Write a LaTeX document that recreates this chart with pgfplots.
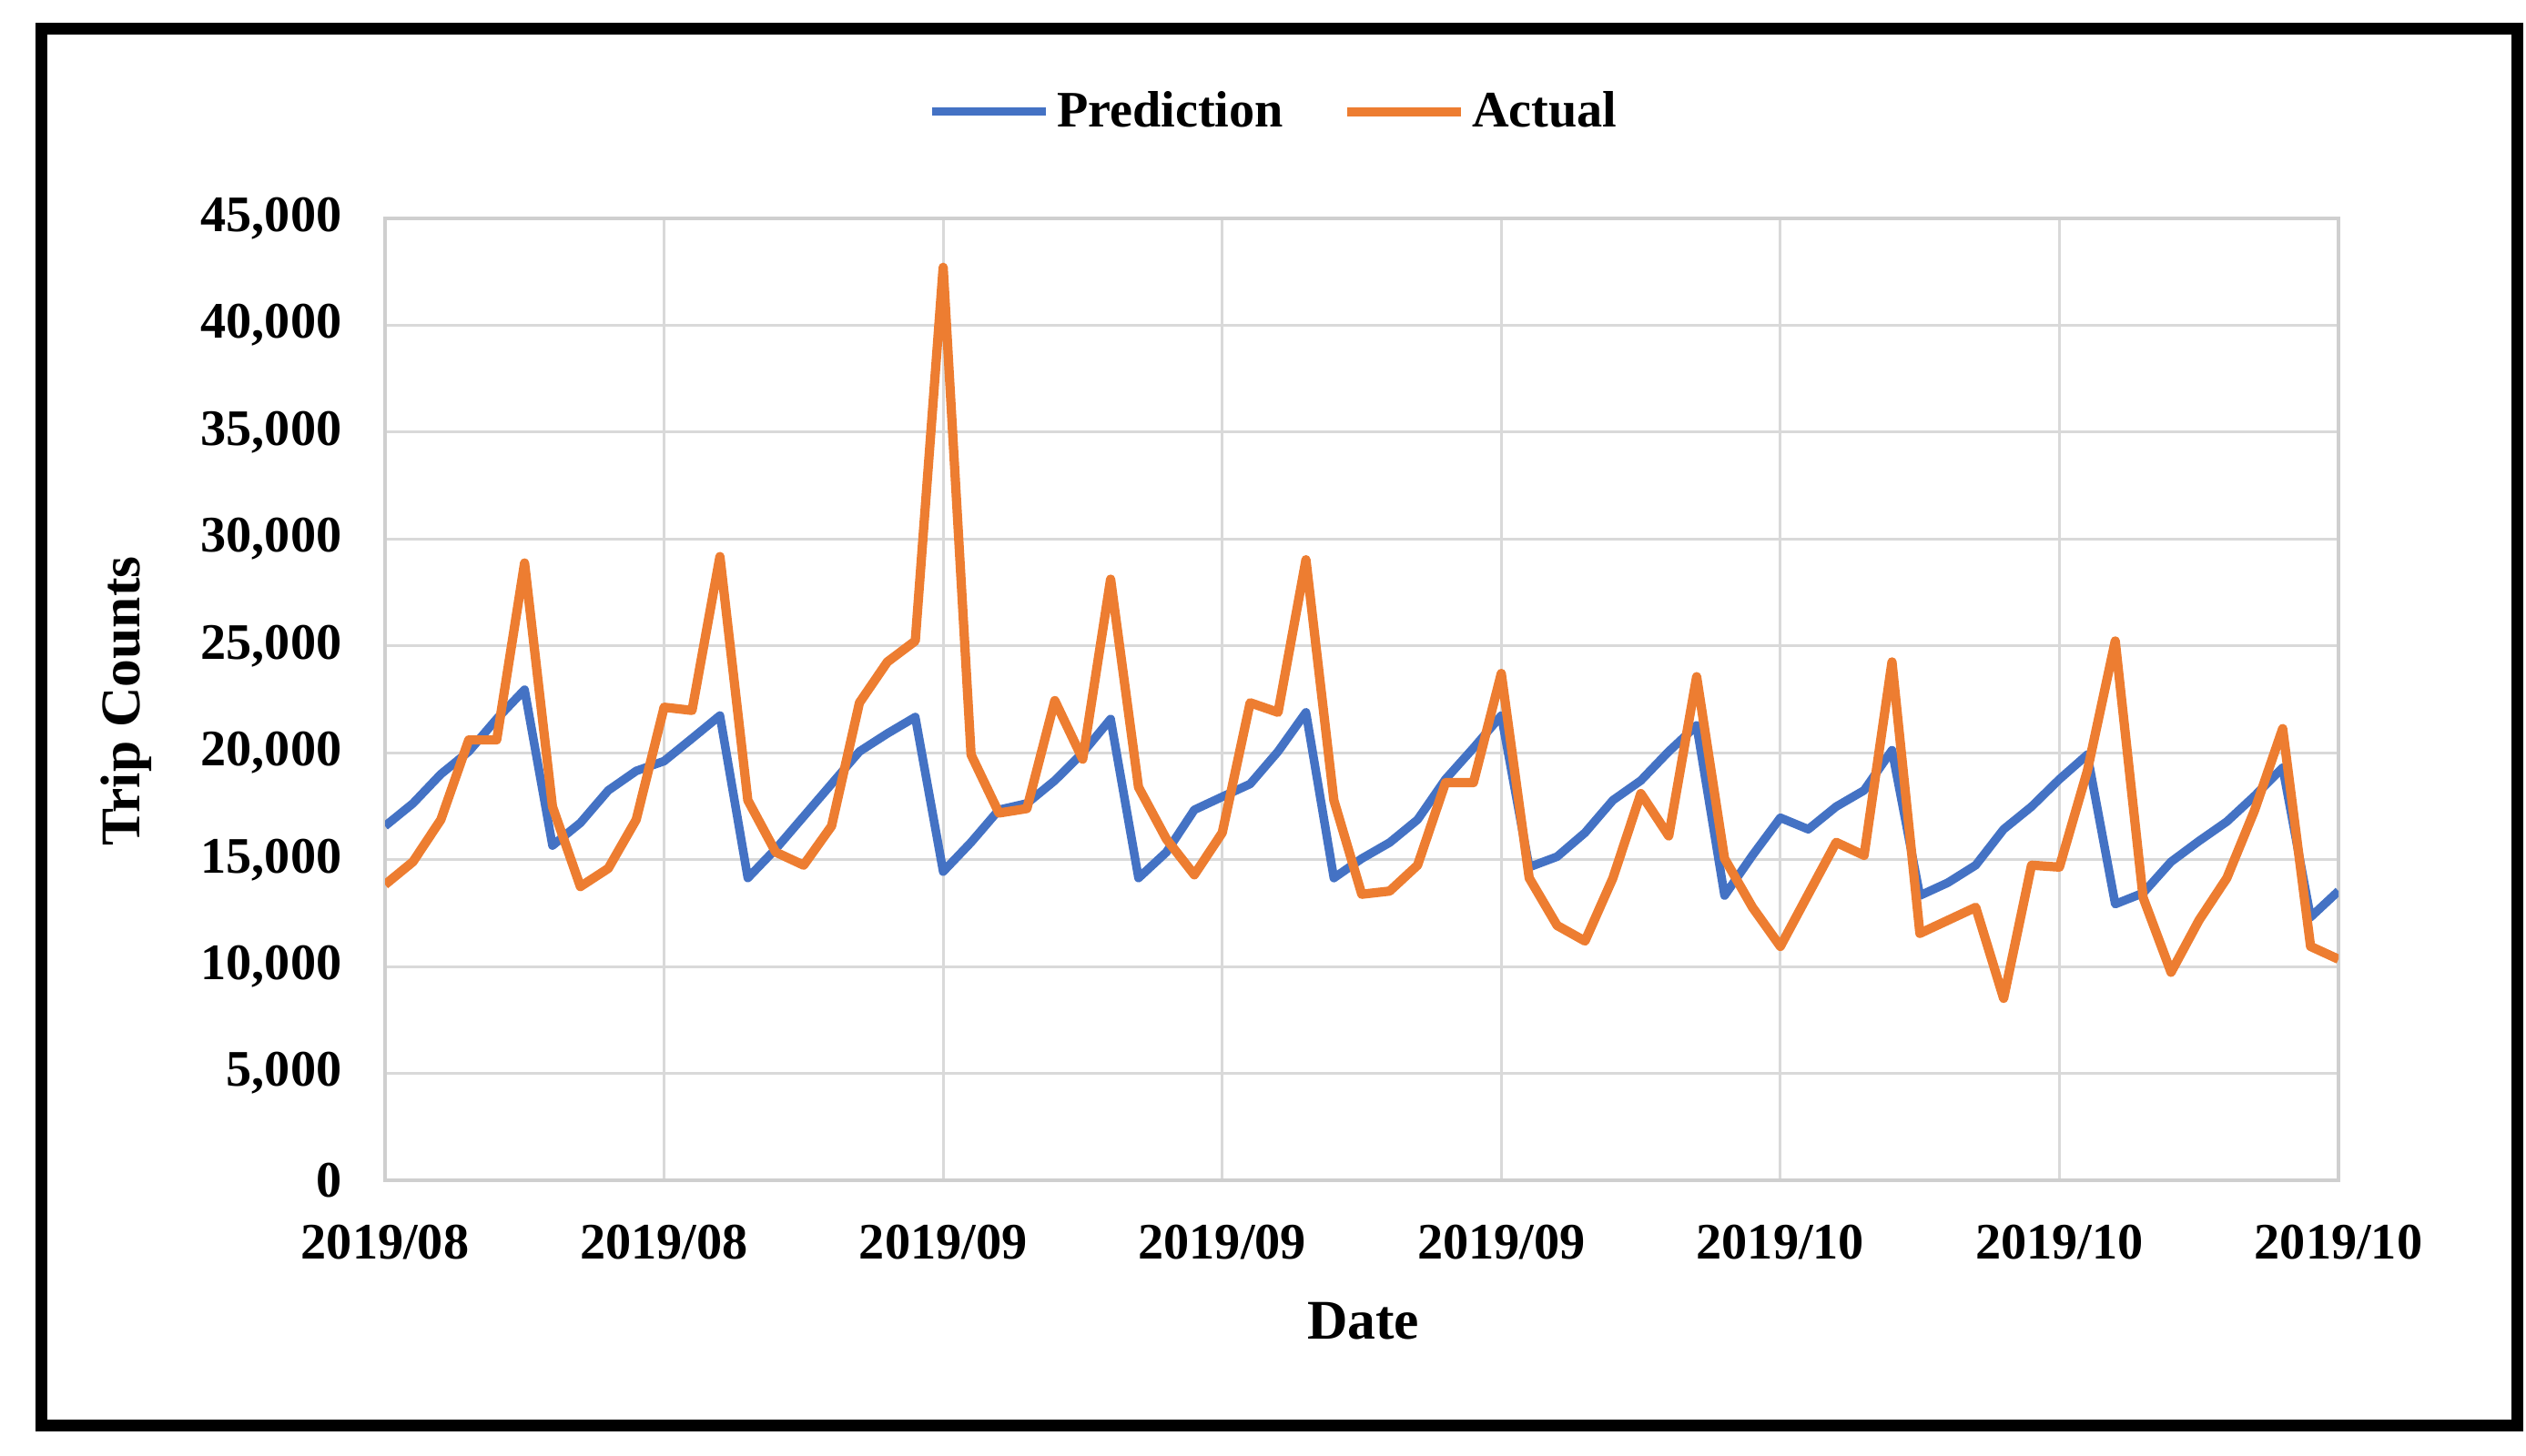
\documentclass[border=0pt]{standalone}
\usepackage{pgfplots}
\pgfplotsset{compat=1.18}
\usepackage{fontspec}
\setmainfont{Liberation Serif}

\definecolor{predblue}{HTML}{4472C4}
\definecolor{actorange}{HTML}{ED7D31}
\definecolor{gridgray}{HTML}{D9D9D9}
\definecolor{axisgray}{HTML}{CFCFCF}

\newcommand\tickfont{\bfseries\fontsize{16}{16}\selectfont}
\newcommand\labelfont{\bfseries\fontsize{17.5}{17.5}\selectfont}

% daily counts, index 0..70 from 2019/08 on
\pgfplotstableread{
i pred act
0 16570 13830
1 17630 14900
2 19000 16870
3 20060 20600
4 21580 20600
5 22950 28880
6 15660 17480
7 16720 13740
8 18240 14590
9 19150 16870
10 19610 22130
11 20670 21980
12 21740 29180
13 14140 17780
14 15500 15350
15 17020 14740
16 18540 16570
17 20060 22340
18 20900 24250
19 21670 25230
20 14440 42710
21 15810 19910
22 17330 17180
23 17630 17390
24 18700 22440
25 20000 19700
26 21580 28120
27 14140 18390
28 15350 15960
29 17330 14290
30 17940 16260
31 18540 22340
32 20060 21890
33 21890 29030
34 14140 17780
35 15050 13380
36 15800 13530
37 16870 14740
38 18760 18600
39 20220 18600
40 21740 23710
41 14650 14140
42 15140 11920
43 16260 11190
44 17780 14140
45 18700 18090
46 20060 16110
47 21280 23560
48 13320 15050
49 15200 12770
50 16960 10940
51 16420 13380
52 17480 15810
53 18240 15200
54 20120 24250
55 13320 11550
56 13920 12160
57 14740 12770
58 16420 8510
59 17480 14740
60 18760 14650
61 19910 19150
62 12920 25230
63 13440 13220
64 14900 9730
65 15870 12160
66 16780 14140
67 17990 17330
68 19300 21130
69 12310 10940
70 13530 10340
}\tripdata

\begin{document}
\begin{tikzpicture}
\useasboundingbox (0mm,0mm) rectangle (277.5mm,160mm);
\draw[line width=1.3mm] (4.55mm,3.35mm) rectangle (276.55mm,156.85mm);
\begin{axis}[
  at={(42.3mm,30.3mm)}, anchor=south west,
  scale only axis, width=214.6mm, height=105.7mm,
  xmin=0, xmax=70, ymin=0, ymax=45000,
  xtick={0,10,...,70},
  xticklabels={2019/08,2019/08,2019/09,2019/09,2019/09,2019/10,2019/10,2019/10},
  ytick={0,5000,...,45000},
  scaled y ticks=false,
  /pgf/number format/assume math mode=true,
  yticklabel style={/pgf/number format/fixed, /pgf/number format/1000 sep={,},
    anchor=east, inner sep=0pt, xshift=-4.7mm},
  xticklabel style={anchor=center, inner sep=0pt, yshift=-6.8mm},
  tick label style={font=\tickfont},
  major tick length=0pt,
  grid=major,
  grid style={draw=gridgray, line width=0.3mm},
  axis line style={draw=axisgray, line width=0.45mm},
  xlabel={Date},
  ylabel={Trip Counts},
  label style={font=\labelfont},
  xlabel style={at={(axis description cs:0.5007,-0.146)}, anchor=center},
  ylabel style={at={(axis description cs:-0.1326,0.498)}, anchor=center},
  legend columns=2,
  legend style={at={(0.456,1.111)}, anchor=center, draw=none, font=\tickfont,
    /tikz/every even column/.append style={column sep=5.8mm}},
  legend image code/.code={\draw[#1] (0mm,0mm) -- (12.5mm,0mm);},
]
\addplot[predblue, line width=2.7pt, line join=round] table[x=i, y=pred] {\tripdata};
\addplot[actorange, line width=2.9pt, line join=round] table[x=i, y=act] {\tripdata};
\legend{Prediction, Actual}
\end{axis}
\end{tikzpicture}
\end{document}
